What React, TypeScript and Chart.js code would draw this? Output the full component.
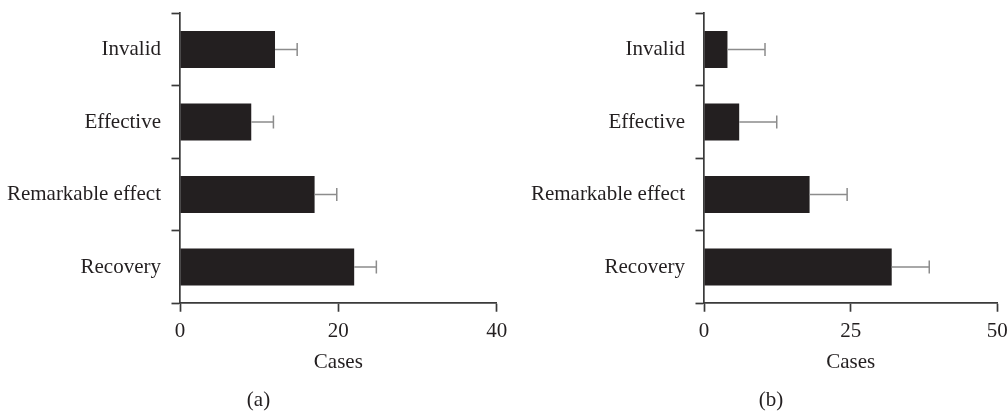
import React, { useEffect, useRef } from "react";
import { Chart, registerables } from "chart.js";

Chart.register(...registerables);

const categories = ["Invalid", "Effective", "Remarkable effect", "Recovery"];
const casesA = [12, 9, 17, 22];
const errorsA = [2.8, 2.8, 2.8, 2.8];
const casesB = [4, 6, 18, 32];
const errorsB = [6.4, 6.4, 6.4, 6.4];
const ticksA = [0, 20, 40];
const ticksB = [0, 25, 50];
const axisTitle = "Cases";
const panelLabels = ["(a)", "(b)"];

const FONT = "'Liberation Serif', 'Times New Roman', serif";
const INK = "#231f20";
const AXIS = "#3a3a3a";
const ERR = "#8c8c8c";
const FS = 21;
const LABEL_BAND = 25.2;

const errorBarPlugin = {
  id: "errorBars",
  afterDatasetsDraw(chart: any, _args: any, opts: any) {
    const errs: number[] = opts.errors || [];
    const meta = chart.getDatasetMeta(0);
    const xs = chart.scales.x;
    const ctx = chart.ctx;
    ctx.save();
    ctx.strokeStyle = ERR;
    ctx.lineWidth = 1.5;
    meta.data.forEach((bar: any, i: number) => {
      const v = chart.data.datasets[0].data[i] as number;
      const x0 = xs.getPixelForValue(v);
      const x1 = xs.getPixelForValue(v + errs[i]);
      const y = bar.y;
      ctx.beginPath();
      ctx.moveTo(x0, y);
      ctx.lineTo(x1, y);
      ctx.moveTo(x1, y - 6.5);
      ctx.lineTo(x1, y + 6.5);
      ctx.stroke();
    });
    ctx.restore();
  },
};

const panelLabelPlugin = {
  id: "panelLabel",
  afterDraw(chart: any, _args: any, opts: any) {
    const ctx = chart.ctx;
    ctx.save();
    ctx.fillStyle = INK;
    ctx.font = `${FS}px ${FONT}`;
    ctx.textAlign = "center";
    ctx.textBaseline = "middle";
    ctx.fillText(opts.text, chart.width / 2, chart.height - LABEL_BAND / 2);
    ctx.restore();
  },
};

function makeConfig(
  values: number[],
  errors: number[],
  ticks: number[],
  label: string,
  yWidth: number,
  padRight: number
) {
  return {
    type: "bar" as const,
    data: {
      labels: categories,
      datasets: [
        {
          data: values,
          backgroundColor: INK,
          borderWidth: 0,
          categoryPercentage: 1,
          barPercentage: 0.51,
        },
      ],
    },
    plugins: [errorBarPlugin, panelLabelPlugin],
    options: {
      indexAxis: "y" as const,
      animation: false as const,
      responsive: false,
      devicePixelRatio: 1,
      layout: { padding: { top: 13.25, right: padRight, left: 0, bottom: LABEL_BAND } },
      plugins: {
        legend: { display: false },
        tooltip: { enabled: false },
        title: { display: false },
        errorBars: { errors },
        panelLabel: { text: label },
      },
      scales: {
        x: {
          type: "linear" as const,
          min: ticks[0],
          max: ticks[ticks.length - 1],
          afterBuildTicks: (s: any) => {
            s.ticks = ticks.map((v) => ({ value: v }));
          },
          afterFit: (s: any) => {
            s.height = 84.55;
            s.paddingLeft = 0;
            s.paddingRight = 0;
          },
          grid: {
            drawOnChartArea: false,
            drawTicks: true,
            tickLength: 8.5,
            tickWidth: 1.7,
            tickColor: AXIS,
          },
          border: { display: true, color: AXIS, width: 1.7 },
          ticks: {
            color: INK,
            font: { family: FONT, size: FS },
            padding: 7,
            maxRotation: 0,
          },
          title: {
            display: true,
            text: axisTitle,
            color: INK,
            font: { family: FONT, size: FS },
            padding: { top: 0, bottom: 13 },
          },
        },
        y: {
          type: "category" as const,
          afterFit: (s: any) => {
            s.width = yWidth;
            s.paddingTop = 0;
            s.paddingBottom = 0;
          },
          grid: {
            offset: true,
            drawOnChartArea: false,
            drawTicks: true,
            tickLength: 8.5,
            tickWidth: 1.7,
            tickColor: AXIS,
          },
          border: { display: true, color: AXIS, width: 1.7 },
          ticks: {
            color: INK,
            font: { family: FONT, size: FS },
            padding: 10.5,
          },
        },
      },
    },
  };
}

function Panel(props: { left: number; width: number; config: any }) {
  const ref = useRef<HTMLCanvasElement | null>(null);
  useEffect(() => {
    if (!ref.current) return;
    const chart = new Chart(ref.current, props.config);
    return () => chart.destroy();
  }, []);
  return (
    <canvas
      ref={ref}
      width={props.width}
      height={413}
      style={{ position: "absolute", left: props.left, top: 0, width: props.width, height: 413 }}
    />
  );
}

export default function App() {
  const cfgA = makeConfig(casesA, errorsA, ticksA, panelLabels[0], 180, 20.3);
  const cfgB = makeConfig(casesB, errorsB, ticksB, panelLabels[1], 184, 24.7);
  return (
    <div
      style={{
        position: "fixed",
        left: 0,
        top: 0,
        width: 1008,
        height: 413,
        overflow: "hidden",
        background: "#ffffff",
      }}
    >
      <Panel left={0} width={517} config={cfgA} />
      <Panel left={520} width={502} config={cfgB} />
    </div>
  );
}
